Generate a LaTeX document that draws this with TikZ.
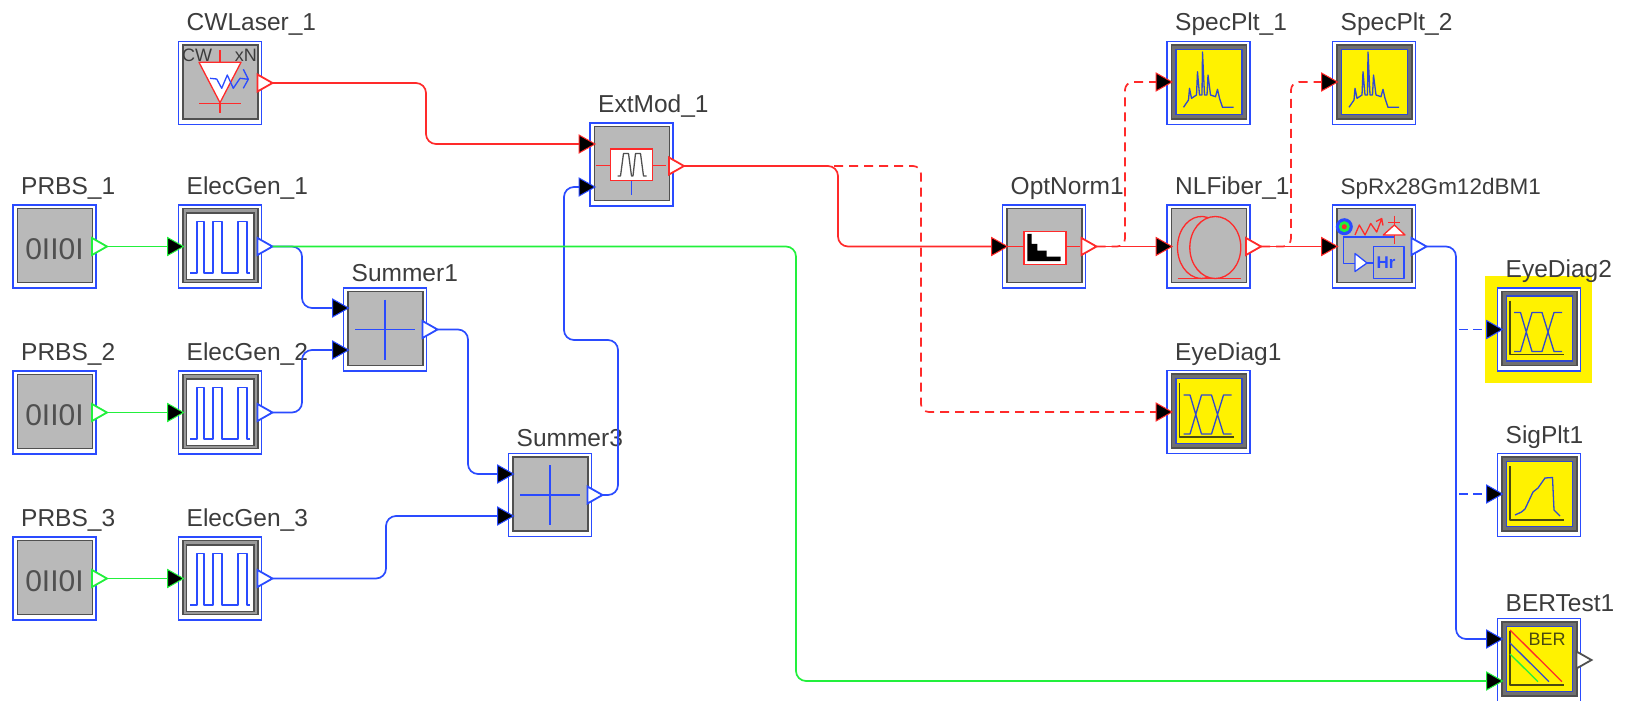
\documentclass[tikz,border=0pt]{standalone}
\usepackage{fontspec}
\setmainfont{Liberation Sans}
\usetikzlibrary{calc,shapes.geometric}
\definecolor{optred}{HTML}{FF2A2A}
\definecolor{elecblue}{HTML}{2A4BFF}
\definecolor{bitgreen}{HTML}{22F03C}
\definecolor{framedark}{HTML}{505050}
\definecolor{framemid}{HTML}{9A9A9A}
\definecolor{plotmid}{HTML}{707070}
\definecolor{facegray}{HTML}{B9B9B9}
\definecolor{plotblue}{HTML}{3048D0}
\definecolor{tracedark}{HTML}{4A4A10}
\definecolor{titlegray}{HTML}{3C3C3C}
\tikzset{
  blockframe/.style={draw=elecblue,line width=1.4pt,fill=white,minimum size=83pt,inner sep=0pt,outer sep=0pt},
  blocktitle/.style={anchor=base west,text=titlegray,font=\fontsize{24.5}{28}\selectfont,inner sep=0pt},
  icontext/.style={inner sep=0pt,text=#1},
  inport/.style={isosceles triangle,isosceles triangle stretches,minimum width=18pt,minimum height=16pt,inner sep=0pt,outer sep=0pt,
    line width=1pt,draw=#1,fill=black,anchor=lower side},
  outport/.style={isosceles triangle,isosceles triangle stretches,minimum width=17pt,minimum height=15pt,inner sep=0pt,outer sep=0pt,
    line width=1.8pt,draw=#1,fill=white,anchor=lower side},
  wire/.style={line width=1.7pt,draw=#1,rounded corners=10pt},
  tapwire/.style={line width=1.7pt,draw=#1,rounded corners=8pt,dash pattern=on 9pt off 6pt},
  sidetap/.style={line width=1.7pt,draw=#1,dash pattern=on 9pt off 5pt,dash phase=11pt},
  iconline/.style={line width=1.3pt,draw=#1,line join=round},
  grayface/.pic={\draw[line width=1.8pt,draw=framedark,fill=facegray] (-37,-38) rectangle (38,36);},
  pulseface/.pic={
    \draw[line width=1.8pt,draw=framedark,fill=framemid] (-37,-38) rectangle (38,36);
    \draw[line width=1.4pt,draw=framedark,fill=white] (-33.5,-33.5) rectangle (34,33);
    \draw[iconline=elecblue] (-30,26.5) -- (-23,26.5) -- (-23,-25) -- (-16,-25) -- (-16,26.5) -- (-7,26.5) -- (-7,-25) -- (2,-25) -- (2,26.5)
      -- (18,26.5) -- (18,-25) -- (27,-25) -- (27,26.5) -- (30,26.5);},
  plotface/.pic={
    \draw[line width=1.8pt,draw=framedark,fill=plotmid] (-37,-38) rectangle (38,36);
    \draw[line width=1.8pt,draw=plotblue,fill=yellow] (-32.5,-33.5) rectangle (33.5,31.5);},
  bitsicon/.pic={\node[icontext=framedark,font=\fontsize{30}{30}\selectfont] (-bits) at (0,3) {0II0I};},
  sumicon/.pic={\draw[iconline=elecblue] (-30,0) -- (30,0) (0,-30) -- (0,30);},
  laseric/.pic={
    \node[icontext=titlegray,font=\fontsize{18}{18}\selectfont,anchor=west] (-cw) at (-38,-28) {CW};
    \node[icontext=titlegray,font=\fontsize{18}{18}\selectfont,anchor=east] (-xn) at (37,-28) {xN};
    \draw[iconline=optred,fill=white] (-21,-20.7) -- (21,-20.7) -- (0,19.7) -- cycle;
    \draw[iconline=optred] (0,-33) -- (0,-20.7) (-21,20.5) -- (21,20.5) (0,19.7) -- (0,30);
    \draw[iconline=elecblue] (-10,-4.7) -- (-3.3,-4) -- (1.7,5.3) -- (7.3,-8) -- (13.3,5.3) -- (20,-4.7) -- (28.3,-3.7) (23.3,-13.7) -- (28.3,-3.7) -- (23.3,5.3);},
  modicon/.pic={
    \draw[iconline=optred] (-36,1) -- (-21,1) (21,1) -- (34,1);
    \draw[iconline=elecblue] (0,16) -- (0,30);
    \draw[line width=1.6pt,draw=optred,fill=white] (-21,-15.5) rectangle (21,16);
    \draw[iconline=framedark] (-14,11.5) -- (-11,11.5) -- (-8,-11) -- (-3,-11) -- (0,11.5) -- (1.5,11.5) -- (4,-11) -- (9,-11) -- (12,11.5) -- (15,11.5);},
  normicon/.pic={
    \draw[iconline=optred] (-36,0) -- (-20,0) (22,0) -- (36,0);
    \draw[line width=1.6pt,draw=optred,fill=white] (-20,-15) rectangle (22,18);
    \fill[black] (-16.7,-12.7) -- (-12.3,-12.7) -- (-12.3,-2.7) -- (-6.7,-2.7) -- (-6.7,4) -- (2.7,4) -- (2.7,10) -- (16.7,10) -- (16.7,14.7) -- (-16.7,14.7) -- cycle;},
  fibreicon/.pic={
    \draw[iconline=optred] (-0.8,-29) arc[start angle=75,end angle=285,x radius=24pt,y radius=31pt];
    \draw[iconline=optred] (6.8,1) ellipse[x radius=25.5pt,y radius=31pt];
    \draw[iconline=optred] (-31,32) -- (32.5,32);},
  rxicon/.pic={
    \draw[iconline=elecblue] (-30.7,-9.5) -- (20.3,-9.5) (-30.7,-9.5) -- (-30.7,17) -- (-19,17);
    \draw[iconline=elecblue,fill=white] (-19,7) -- (-19,25) -- (-7,16.5) -- cycle;
    \draw[iconline=elecblue] (-7,16.5) -- (-0.7,16.5);
    \draw[iconline=elecblue] (-0.7,0.2) rectangle (30,32);
    \node[icontext=elecblue,font=\bfseries\fontsize{17}{17}\selectfont] (-hr) at (12,16) {Hr};
    \fill[elecblue] (-29.7,-19.8) circle (8.5pt);
    \fill[bitgreen] (-29.7,-19.8) circle (5.5pt);
    \fill[optred] (-29.7,-19.8) circle (2.5pt);
    \draw[iconline=optred] (-19,-11.5) -- (-14.7,-21.5) -- (-9,-11.5) -- (-3.3,-23) -- (2.7,-14.5) -- (7.7,-28) (2,-25) -- (7.7,-28) -- (9,-21);
    \draw[iconline=optred,fill=white] (9.3,-11.5) -- (31,-11.5) -- (20.3,-21.5) -- cycle;
    \draw[iconline=optred] (20.3,-31) -- (20.3,-21.5) (14.3,-24) -- (26,-24) (20.3,-11.5) -- (20.3,-3);},
  specicon/.pic={
    \draw[iconline=plotblue] (-25,24.3) -- (-20,17) -- (-19,5.3) -- (-17,15.3) -- (-12,12) -- (-11,-11.3) -- (-9,12) -- (-6.5,12) -- (-6,-31) -- (-4,12)
      -- (-1.5,12) -- (-0.5,-8) -- (2,12) -- (7,13.7) -- (9,6.3) -- (11,15.3) -- (14,24.3) -- (25,24.3);},
  plotaxes/.pic={\draw[iconline=tracedark] (-29,-29) -- (-29,25) -- (25,25);},
  eyeicon/.pic={
    \draw[iconline=plotblue] (-25,-17) -- (-18.5,-17) -- (-7,22) -- (3,22) -- (15,-17) -- (23,-17)
      (-25,22) -- (-18.5,22) -- (-7,-17) -- (3,-17) -- (15,22) -- (23,22);},
  sigicon/.pic={
    \draw[iconline=plotblue] (-24,20) -- (-17.5,17) -- (-14,14) -- (-6,-3) -- (-1,-7) -- (6,-17) -- (13.5,-17.5) -- (15,15) -- (21,21);},
  bericon/.pic={
    \draw[iconline=optred] (-29,-30) -- (23,21.7);
    \draw[iconline=plotblue] (-29,-17) -- (10,21.7);
    \draw[iconline=bitgreen] (-29,-6) -- (-1,21.7);
    \node[icontext=tracedark,font=\fontsize{18}{18}\selectfont] (-ber) at (8,-21) {BER};},
}
\begin{document}
\begin{tikzpicture}[x=1pt,y=-1pt]
\useasboundingbox (0,0) rectangle (1631,701);
\fill[yellow] (1485,276) rectangle (1592,383);
\foreach \name/\px/\py/\up/\title in {cwlaser1/220/83/10.5/CWLaser\_1,prbs1/54.5/246.5/10.5/PRBS\_1,prbs2/54.5/412.5/10.5/PRBS\_2,prbs3/54.5/578.5/10.5/PRBS\_3,
  elecgen1/220/246.5/10.5/ElecGen\_1,elecgen2/220/412.5/10.5/ElecGen\_2,elecgen3/220/578.5/10.5/ElecGen\_3,summer1/385/329.5/7/Summer1,summer3/550/495/7/Summer3,
  extmod1/631.5/164.5/10.5/ExtMod\_1,optnorm1/1044/246.5/10.5/OptNorm1,nlfiber1/1208.5/246.5/10.5/NLFiber\_1,sprx1/1374/246.5/10.5/{\fontsize{22.5}{28}\selectfont SpRx28Gm12dBM1},
  specplt1/1208.5/83/10.5/SpecPlt\_1,specplt2/1374/83/10.5/SpecPlt\_2,eyediag1/1208.5/412/10.5/EyeDiag1,eyediag2/1539/329.5/10.5/EyeDiag2,
  sigplt1/1539/495/10.5/SigPlt1,bertest1/1539/660/7/BERTest1}{
  \node[blockframe] (\name) at (\px,\py) {};
  \node[blocktitle] (\name-title) at ($(\name.north west)+(8,-\up)$) {\title};
}
\foreach \name in {cwlaser1,prbs1,prbs2,prbs3,summer1,summer3,extmod1,optnorm1,nlfiber1,sprx1}{\pic at (\name) {grayface};}
\foreach \name in {elecgen1,elecgen2,elecgen3}{\pic at (\name) {pulseface};}
\foreach \name in {specplt1,specplt2,eyediag1,eyediag2,sigplt1,bertest1}{\pic at (\name) {plotface};}
\foreach \name in {eyediag1,eyediag2,sigplt1,bertest1}{\pic at (\name) {plotaxes};}
\foreach \name in {prbs1,prbs2,prbs3}{\pic (\name-icon) at (\name) {bitsicon};}
\foreach \name in {summer1,summer3}{\pic at (\name) {sumicon};}
\foreach \name in {specplt1,specplt2}{\pic at (\name) {specicon};}
\foreach \name in {eyediag1,eyediag2}{\pic at (\name) {eyeicon};}
\pic (cwlaser1-icon) at (cwlaser1) {laseric};
\pic at (extmod1) {modicon};
\pic at (optnorm1) {normicon};
\pic at (nlfiber1) {fibreicon};
\pic (sprx1-icon) at (sprx1) {rxicon};
\pic at (sigplt1) {sigicon};
\pic (bertest1-icon) at (bertest1) {bericon};
% ports
\foreach \name/\col/\dy in {prbs1/bitgreen/0,prbs2/bitgreen/0,prbs3/bitgreen/0,cwlaser1/optred/0,elecgen1/elecblue/0,elecgen2/elecblue/0,elecgen3/elecblue/0,
  summer1/elecblue/0,summer3/elecblue/0,extmod1/optred/1.5,optnorm1/optred/0,nlfiber1/optred/0,sprx1/elecblue/0,bertest1/framedark/0}{
  \node[outport=\col] (\name-out) at ($(\name.east)+(-4,\dy)$) {};
}
\foreach \name/\blk/\col/\dy in {elecgen1-in/elecgen1/bitgreen/0,elecgen2-in/elecgen2/bitgreen/0,elecgen3-in/elecgen3/bitgreen/0,
  extmod1-ina/extmod1/optred/-20.5,extmod1-inb/extmod1/elecblue/22.5,summer1-ina/summer1/elecblue/-21.5,summer1-inb/summer1/elecblue/20.5,
  summer3-ina/summer3/elecblue/-21,summer3-inb/summer3/elecblue/21,optnorm1-in/optnorm1/optred/0,nlfiber1-in/nlfiber1/optred/0,sprx1-in/sprx1/optred/0,
  specplt1-in/specplt1/optred/-1,specplt2-in/specplt2/optred/-1,eyediag1-in/eyediag1/optred/0,eyediag2-in/eyediag2/elecblue/0,sigplt1-in/sigplt1/elecblue/-1,
  bertest1-ina/bertest1/elecblue/-21,bertest1-inb/bertest1/bitgreen/21}{
  \node[inport=\col] (\name) at ($(\blk.west)+(-11,\dy)$) {};
}
% connectors
\foreach \a/\b in {prbs1-out/elecgen1-in,prbs2-out/elecgen2-in,prbs3-out/elecgen3-in}{
  \draw[wire=bitgreen] (\a.apex) -- (\b.lower side);
}
\draw[wire=optred] (cwlaser1-out.apex) -| (426,120) |- (extmod1-ina.lower side);
\draw[wire=elecblue] (elecgen1-out.apex) -| (302,280) |- (summer1-ina.lower side);
\draw[wire=elecblue] (elecgen2-out.apex) -| (302,380) |- (summer1-inb.lower side);
\draw[wire=elecblue] (elecgen3-out.apex) -| (386,550) |- (summer3-inb.lower side);
\draw[wire=elecblue] (summer1-out.apex) -| (468,400) |- (summer3-ina.lower side);
\draw[wire=elecblue] (summer3-out.apex) -| (618,340) -| (564,250) |- (extmod1-inb.lower side);
\draw[wire=bitgreen] (elecgen1-out.apex) -| (796,500) |- (bertest1-inb.lower side);
\draw[tapwire=optred] (extmod1-out.apex) -| (921,300) |- (eyediag1-in.lower side);
\draw[wire=optred] (extmod1-out.apex) -| (838,200) |- (optnorm1-in.lower side);
\draw[tapwire=optred] (optnorm1-out.apex) -| (1125,150) |- (specplt1-in.lower side);
\draw[wire=optred] (optnorm1-out.apex) -- (nlfiber1-in.lower side);
\draw[tapwire=optred] (nlfiber1-out.apex) -| (1291,150) |- (specplt2-in.lower side);
\draw[wire=optred] (nlfiber1-out.apex) -- (sprx1-in.lower side);
\draw[wire=elecblue] (sprx1-out.apex) -| (1456,400) |- (bertest1-ina.lower side);
\coordinate (eyetap) at (1456,329.5);
\coordinate (sigtap) at (1456,494);
\draw[sidetap=elecblue] (eyetap) -- (eyediag2-in.lower side);
\draw[sidetap=elecblue] (sigtap) -- (sigplt1-in.lower side);
\end{tikzpicture}
\end{document}
